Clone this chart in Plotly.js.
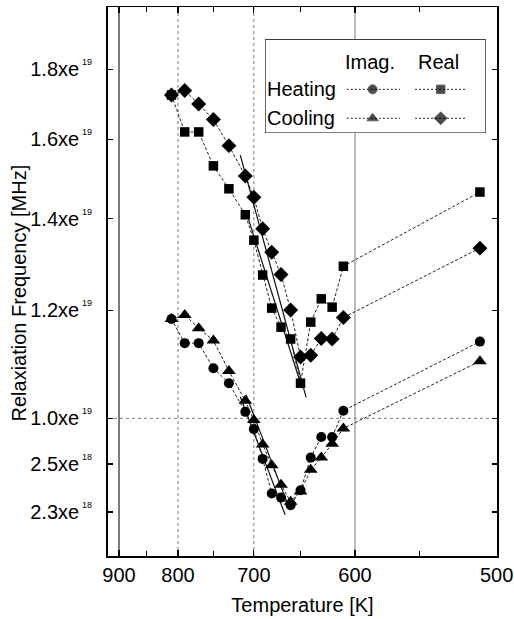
<!DOCTYPE html>
<html><head><meta charset="utf-8">
<script src="https://cdn.plot.ly/plotly-3.0.1.min.js"></script>
<style>html,body{margin:0;padding:0;background:#fff}#chart{width:514px;height:619px}</style>
</head><body><div id="chart"></div>
<script>
// Data (relaxation frequency in units of 1e19 on a log scale, temperature in K; x drawn as 1000/T)
const temperatureK = [810,790,770,750,730,710,700,690,680,670,660,650,640,630,620,610,510];
const imagHeating = [1.182,1.135,1.135,1.088,1.061,1.011,0.982,0.934,0.881,0.875,0.864,0.886,0.936,0.969,0.969,1.013,1.138];
const imagCooling = [1.182,1.190,1.164,1.140,1.083,1.030,0.997,0.957,0.924,0.894,0.869,0.884,0.917,0.936,0.958,0.983,1.101];
const realHeating = [1.724,1.620,1.620,1.530,1.472,1.409,1.350,1.273,1.204,1.166,1.143,1.061,1.176,1.223,1.206,1.292,1.464];
const realCooling = [1.724,1.737,1.698,1.654,1.583,1.504,1.451,1.376,1.323,1.274,1.200,1.109,1.112,1.144,1.143,1.185,1.332];

// Straight-line fits (end points)
const realCoolingFitT = [716, 644.5], realCoolingFitV = [1.558, 1.036];
const realHeatingFitT = [709, 648.4], realHeatingFitV = [1.416, 1.052];
const imagHeatingFitT = [716, 665.7], imagHeatingFitV = [1.037, 0.850];
const imagCoolingFitT = [709, 661.6], imagCoolingFitV = [1.040, 0.860];

const xTickTemps = [900, 800, 700, 600, 500];
const xTickText = ['900', '800', '700', '600', '500'];
const xMinorTemps = [850, 750, 650, 550];
const yTickVals = [1.8, 1.6, 1.4, 1.2, 1.0, 0.926, 0.854];
const yTickText = ['1.8xe', '1.6xe', '1.4xe', '1.2xe', '1.0xe', '2.5xe', '2.3xe'];
const yTickExp = ['19', '19', '19', '19', '19', '18', '18'];

const legendCols = ['Imag.', 'Real'];
const legendRows = ['Heating', 'Cooling'];

const inv = t => 1000 / t;
const FONT = 'Liberation Sans, Arial, Helvetica, sans-serif';
const dashStyle = '3px,2px';
const lineColor = '#222';

function series(T, V, symbol, size) {
  return {
    x: T.map(inv), y: V, type: 'scatter', mode: 'lines+markers',
    line: {color: lineColor, width: 1, dash: dashStyle},
    marker: {symbol: symbol, size: size, color: '#000'},
    hoverinfo: 'skip', showlegend: false
  };
}
function fit(T, V) {
  return {
    x: T.map(inv), y: V, type: 'scatter', mode: 'lines',
    line: {color: '#111', width: 1.2}, hoverinfo: 'skip', showlegend: false
  };
}

const traces = [
  fit(realCoolingFitT, realCoolingFitV),
  fit(realHeatingFitT, realHeatingFitV),
  fit(imagHeatingFitT, imagHeatingFitV),
  fit(imagCoolingFitT, imagCoolingFitV),
  series(temperatureK, realHeating, 'square', 9.5),
  series(temperatureK, realCooling, 'diamond', 11.5),
  series(temperatureK, imagCooling, 'triangle-up', 12),
  series(temperatureK, imagHeating, 'circle', 10)
];

// Legend samples drawn in a small inset subplot (x2/y2 in 0..1 units of the legend box)
const legendSamples = [
  {row: 0, col: 0, symbol: 'circle', size: 9},
  {row: 0, col: 1, symbol: 'square', size: 8.5},
  {row: 1, col: 0, symbol: 'triangle-up', size: 10},
  {row: 1, col: 1, symbol: 'diamond', size: 10}
];
const rowY = [0.466, 0.157];
const colX = [[0.370, 0.487, 0.611], [0.679, 0.795, 0.913]];
legendSamples.forEach(s => {
  traces.push({
    x: colX[s.col], y: [rowY[s.row], rowY[s.row], rowY[s.row]],
    xaxis: 'x2', yaxis: 'y2', type: 'scatter', mode: 'lines+markers',
    line: {color: lineColor, width: 1, dash: '2px,2px'},
    marker: {symbol: s.symbol, size: [0, s.size, 0], color: '#000'},
    hoverinfo: 'skip', showlegend: false
  });
});

const xRange = [1.0852, 2.001];
const yRange = [-0.1007, 0.3009];
const L = 108, W = 389, H = 549;
const yPaper = v => (Math.log10(v) - yRange[0]) / (yRange[1] - yRange[0]);

const shapes = [];
// vertical gridlines
xTickTemps.slice(0, 4).forEach(t => {
  const solid = (t === 900 || t === 600);
  shapes.push({type: 'line', xref: 'x', yref: 'paper', x0: inv(t), x1: inv(t), y0: 0, y1: 1,
    line: {color: t === 900 ? '#333' : '#777', width: t === 900 ? 1.3 : 1, dash: solid ? 'solid' : 'dot'},
    layer: 'below'});
});
// horizontal gridline at 1.0e19
shapes.push({type: 'line', xref: 'paper', yref: 'paper', x0: 0, x1: 1, y0: yPaper(1.0), y1: yPaper(1.0),
  line: {color: '#777', width: 1, dash: 'dot'}, layer: 'below'});
// legend box
shapes.push({type: 'rect', xref: 'x2', yref: 'y2', x0: 0, x1: 1, y0: 0, y1: 1,
  line: {color: '#000', width: 1.2}, fillcolor: '#fff', layer: 'below'});

// legend box in pixel terms: x 265..486, y 39.3..133 of the 514x619 figure
const boxX = [(265 - L) / W, (486 - L) / W];
const boxY = [(556 - 133) / H, (556 - 39.3) / H];

const annotations = [];
legendCols.forEach((c, i) => annotations.push({text: c, xref: 'x2', yref: 'y2', x: colX[i][1] - 0.01, y: 0.761,
  showarrow: false, xanchor: 'center', yanchor: 'middle', font: {family: FONT, size: 20, color: '#000'}}));
legendRows.forEach((r, i) => annotations.push({text: r, xref: 'x2', yref: 'y2', x: 0.002, y: rowY[i],
  showarrow: false, xanchor: 'left', yanchor: 'middle', font: {family: FONT, size: 20, color: '#000'}}));
// exponents of the y tick labels (small raised text)
yTickVals.forEach((v, i) => annotations.push({text: yTickExp[i], xref: 'paper', yref: 'paper',
  x: (79.5 - L) / W, y: yPaper(v) + 7 / H, showarrow: false, xanchor: 'left', yanchor: 'middle',
  font: {family: FONT, size: 9, color: '#000'}}));
// y-axis title
annotations.push({text: 'Relaxiation Frequency [MHz]', xref: 'paper', yref: 'paper',
  x: (18 - L) / W, y: (556 - 293.5) / H, textangle: -90, showarrow: false,
  xanchor: 'center', yanchor: 'middle', font: {family: FONT, size: 20, color: '#000'}});

const layout = {
  width: 514, height: 619,
  margin: {l: 108, r: 17, t: 7, b: 63},
  paper_bgcolor: '#fff', plot_bgcolor: 'rgba(0,0,0,0)',
  font: {family: FONT, size: 20, color: '#000'},
  showlegend: false,
  xaxis: {
    range: xRange, tickmode: 'array', tickvals: xTickTemps.map(inv), ticktext: xTickText,
    ticks: 'inside', ticklen: 6, tickwidth: 1.2, tickcolor: '#000',
    showline: true, linecolor: '#000', linewidth: 1.5, mirror: 'ticks',
    showgrid: false, zeroline: false, automargin: false,
    tickfont: {family: FONT, size: 20, color: '#000'},
    minor: {tickmode: 'array', tickvals: xMinorTemps.map(inv), ticks: 'inside', ticklen: 5, tickwidth: 1.2, tickcolor: '#000', showgrid: false},
    title: {text: 'Temperature [K]', font: {family: FONT, size: 20, color: '#000'}, standoff: 13}
  },
  yaxis: {
    type: 'log', range: yRange, tickmode: 'array', tickvals: yTickVals, ticktext: yTickText,
    ticks: 'inside', ticklen: 5, tickwidth: 1.2, tickcolor: '#000',
    showline: true, linecolor: '#000', linewidth: 1.8, mirror: 'ticks',
    showgrid: false, zeroline: false, automargin: false, ticklabelstandoff: 23,
    tickfont: {family: FONT, size: 20, color: '#000'}
  },
  xaxis2: {domain: boxX, range: [0, 1], anchor: 'y2', visible: false, fixedrange: true},
  yaxis2: {domain: boxY, range: [0, 1], anchor: 'x2', visible: false, fixedrange: true},
  shapes: shapes,
  annotations: annotations
};

Plotly.newPlot('chart', traces, layout, {displayModeBar: false, staticPlot: true});
</script>
</body></html>
